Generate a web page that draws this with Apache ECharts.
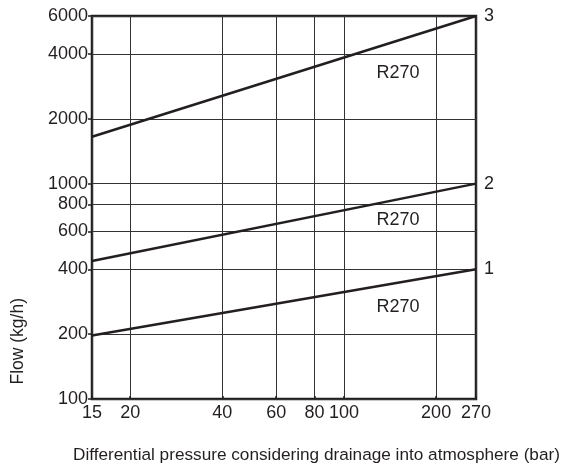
<!DOCTYPE html>
<html lang="en">
<head>
    <meta charset="UTF-8">
    <title>Flow vs differential pressure</title>
    <script src="https://cdn.jsdelivr.net/npm/echarts@6/dist/echarts.min.js"></script>
    <style>
        html, body { margin: 0; padding: 0; background: #fff; }
        #main { width: 569px; height: 473px; }
    </style>
</head>
<body>
<div id="main"></div>
<script>
    // pressure (bar) at the two ends of each curve
    var pressure = [15, 270];
    var flow1 = [197, 400];
    var flow2 = [437, 1000];
    var flow3 = [1650, 6000];
    var curveNames = ['1', '2', '3'];

    var xTicks = [15, 20, 40, 60, 80, 100, 200, 270];
    var yTicks = [100, 200, 400, 600, 800, 1000, 2000, 4000, 6000];

    // "R270" annotations, [pressure, flow]
    var refrigerant = 'R270';
    var refLabelPos = [[150, 3260], [150, 677], [150, 268]];

    var ink = '#231f20';
    var font = '"Liberation Sans", Arial, sans-serif';

    var myChart = echarts.init(document.getElementById('main'));

    function curve(name, values) {
        return {
            name: name,
            type: 'line',
            data: pressure.map(function (p, i) { return [p, values[i]]; }),
            symbol: 'none',
            lineStyle: {color: ink, width: 2.5},
            endLabel: {
                show: true,
                formatter: '{a}',
                color: ink,
                fontFamily: font,
                fontSize: 18,
                distance: 8
            },
            silent: true
        };
    }

    var option = {
        animation: false,
        grid: {
            left: 92, right: 93, top: 16, bottom: 74,
            show: true,
            borderColor: ink,
            borderWidth: 2.5
        },
        xAxis: {
            type: 'log',
            min: 15,
            max: 270,
            axisLine: {show: false},
            axisTick: {show: true, inside: true, length: 3, customValues: xTicks, lineStyle: {color: ink, width: 1.5}},
            axisLabel: {
                customValues: xTicks,
                formatter: function (v) { return String(v); },
                color: ink, fontFamily: font, fontSize: 18, margin: 5,
                showMinLabel: true, showMaxLabel: true
            },
            splitLine: {show: true, lineStyle: {color: '#333', width: 1}}
        },
        yAxis: {
            type: 'log',
            min: 100,
            max: 6000,
            axisLine: {show: false},
            axisTick: {show: true, length: 4, customValues: yTicks, lineStyle: {color: ink, width: 1.5}},
            axisLabel: {
                customValues: yTicks,
                formatter: function (v) { return String(v); },
                color: ink, fontFamily: font, fontSize: 18, margin: 4,
                showMinLabel: true, showMaxLabel: true
            },
            splitLine: {show: true, lineStyle: {color: '#333', width: 1}}
        },
        series: [
            curve(curveNames[0], flow1),
            curve(curveNames[1], flow2),
            curve(curveNames[2], flow3),
            {
                type: 'scatter',
                symbolSize: 1,
                itemStyle: {color: 'rgba(0,0,0,0)', opacity: 1},
                silent: true,
                data: refLabelPos,
                label: {
                    show: true,
                    position: 'inside',
                    formatter: refrigerant,
                    color: ink,
                    opacity: 1,
                    textBorderWidth: 0,
                    textBorderColor: 'rgba(0,0,0,0)',
                    fontFamily: font,
                    fontSize: 18
                }
            }
        ],
        graphic: [
            {
                type: 'text',
                left: 9,
                top: 298,
                rotation: Math.PI / 2,
                style: {
                    text: 'Flow (kg/h)',
                    fill: ink,
                    font: '17.5px ' + font
                }
            },
            {
                type: 'text',
                left: 73,
                top: 447,
                style: {
                    text: 'Differential pressure considering drainage into atmosphere (bar)',
                    fill: ink,
                    font: '17.2px ' + font
                }
            }
        ]
    };

    myChart.setOption(option);
</script>
</body>
</html>
